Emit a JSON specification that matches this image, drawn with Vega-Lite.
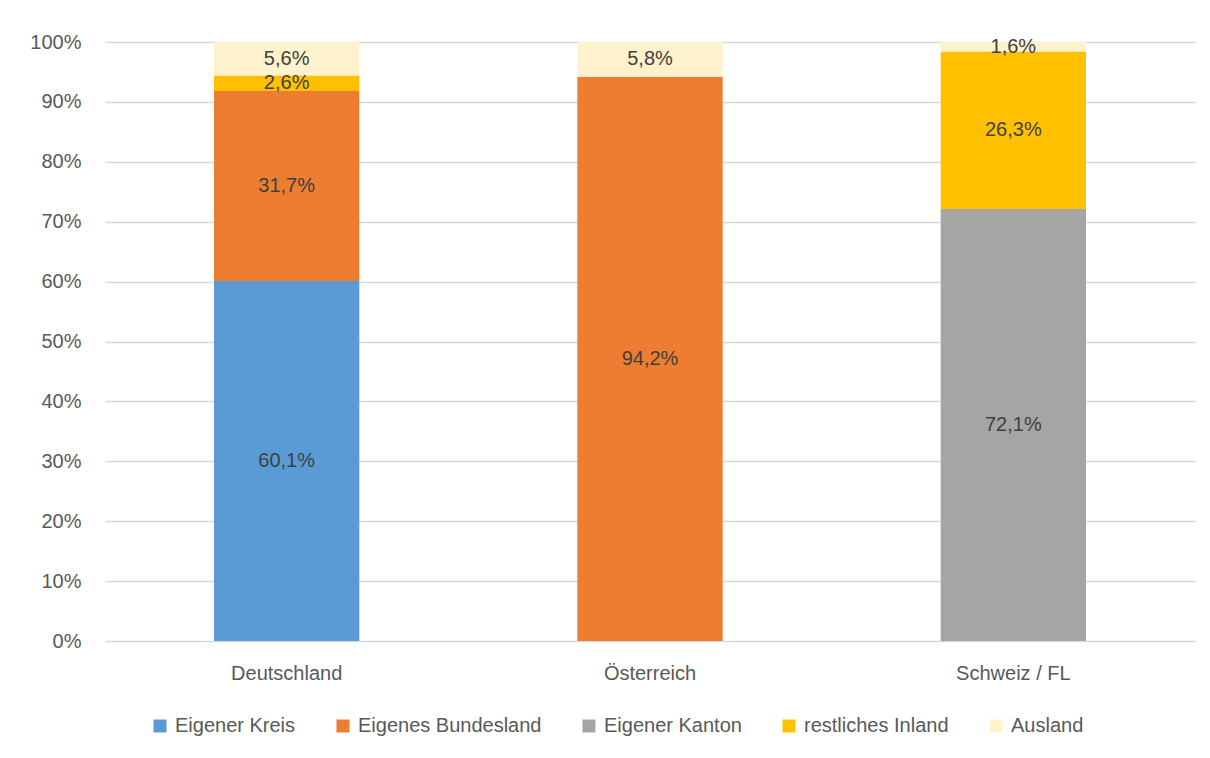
{
  "$schema": "https://vega.github.io/schema/vega-lite/v6.json",
  "width": 1090,
  "height": 599,
  "autosize": {"type": "none"},
  "padding": {"left": 105, "top": 42, "right": 15, "bottom": 117},
  "background": "white",
  "config": {
    "locale": {"number": {"decimal": ",", "thousands": ".", "grouping": [3], "currency": ["", " €"]}},
    "view": {"stroke": null},
    "font": "Liberation Sans"
  },
  "data": {
    "values": [
      {"land": "Deutschland", "kat": "Eigener Kreis", "ord": 1, "value": 0.601},
      {"land": "Deutschland", "kat": "Eigenes Bundesland", "ord": 2, "value": 0.317},
      {"land": "Deutschland", "kat": "restliches Inland", "ord": 4, "value": 0.026},
      {"land": "Deutschland", "kat": "Ausland", "ord": 5, "value": 0.056},
      {"land": "Österreich", "kat": "Eigenes Bundesland", "ord": 2, "value": 0.942},
      {"land": "Österreich", "kat": "Ausland", "ord": 5, "value": 0.058},
      {"land": "Schweiz / FL", "kat": "Eigener Kanton", "ord": 3, "value": 0.721},
      {"land": "Schweiz / FL", "kat": "restliches Inland", "ord": 4, "value": 0.263},
      {"land": "Schweiz / FL", "kat": "Ausland", "ord": 5, "value": 0.016}
    ]
  },
  "transform": [
    {"stack": "value", "groupby": ["land"], "sort": [{"field": "ord", "order": "ascending"}], "as": ["v0", "v1"]},
    {"calculate": "(datum.v0 + datum.v1) / 2", "as": "mid"}
  ],
  "encoding": {
    "x": {
      "field": "land",
      "type": "nominal",
      "sort": ["Deutschland", "Österreich", "Schweiz / FL"],
      "scale": {"paddingInner": 0.6, "paddingOuter": 0.3},
      "axis": {
        "title": null,
        "labelAngle": 0,
        "domain": false,
        "ticks": false,
        "labelFontSize": 20,
        "labelColor": "#595959",
        "labelPadding": 22
      }
    }
  },
  "layer": [
    {
      "mark": {"type": "bar"},
      "encoding": {
        "y": {
          "field": "v0",
          "type": "quantitative",
          "scale": {"domain": [0, 1], "nice": false},
          "axis": {
            "title": null,
            "values": [0, 0.1, 0.2, 0.3, 0.4, 0.5, 0.6, 0.7, 0.8, 0.9, 1],
            "format": ".0%",
            "domain": false,
            "ticks": false,
            "labelFontSize": 20,
            "labelColor": "#595959",
            "labelPadding": 24,
            "gridColor": "#D9D9D9",
            "gridWidth": 1.5
          }
        },
        "y2": {"field": "v1"},
        "color": {
          "field": "kat",
          "type": "nominal",
          "scale": {
            "domain": ["Eigener Kreis", "Eigenes Bundesland", "Eigener Kanton", "restliches Inland", "Ausland"],
            "range": ["#5B9BD5", "#ED7D31", "#A5A5A5", "#FFC000", "#FFF2CC"]
          },
          "legend": {
            "orient": "none",
            "legendX": 45,
            "legendY": 674,
            "direction": "horizontal",
            "title": null,
            "symbolType": "square",
            "symbolSize": 169,
            "symbolStrokeWidth": 0,
            "labelFontSize": 20,
            "labelColor": "#595959",
            "columnPadding": 37,
            "labelOffset": 5,
            "labelLimit": 300
          }
        }
      }
    },
    {
      "mark": {"type": "text", "fontSize": 20, "color": "#404040"},
      "encoding": {
        "y": {"field": "mid", "type": "quantitative"},
        "text": {"field": "value", "type": "quantitative", "format": ".1%"}
      }
    }
  ]
}
